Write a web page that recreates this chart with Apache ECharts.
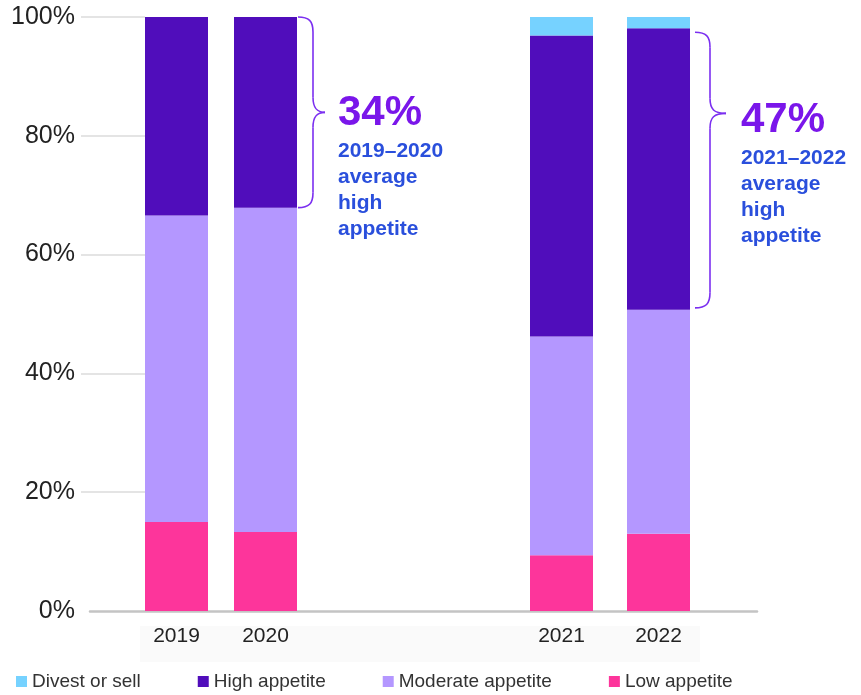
<!DOCTYPE html>
<html><head><meta charset="utf-8">
<script src="https://cdn.jsdelivr.net/npm/echarts@6/dist/echarts.min.js"></script>
<style>html,body{margin:0;padding:0;background:#fff}#c{width:861px;height:695px}</style>
</head><body><div id="c"></div>
<script>
const categories = ['2019', '2020', '2021', '2022'];
const lowAppetite = [15.0, 13.3, 9.4, 13.0];
const moderateAppetite = [51.6, 54.6, 36.8, 37.7];
const highAppetite = [33.4, 32.1, 50.7, 47.4];
const divestOrSell = [0, 0, 3.1, 1.9];
const yTicks = [20, 40, 60, 80, 100];
const legendNames = ['Divest or sell', 'High appetite', 'Moderate appetite', 'Low appetite'];
const calloutPct = ['34%', '47%'];
const calloutText = ['2019–2020\naverage\nhigh\nappetite', '2021–2022\naverage\nhigh\nappetite'];

const FF = '"Liberation Sans", Arial, sans-serif';
const colors = {
  'Divest or sell': '#76d2ff',
  'High appetite': '#500dbb',
  'Moderate appetite': '#b497ff',
  'Low appetite': '#fd359b'
};
const stackOrder = [
  ['Low appetite', lowAppetite],
  ['Moderate appetite', moderateAppetite],
  ['High appetite', highAppetite],
  ['Divest or sell', divestOrSell]
];
const groups = [[0, 1], [2, 3]];
const series = [];
groups.forEach((idx, g) => {
  stackOrder.forEach(([name, arr]) => {
    series.push({
      name, type: 'bar', xAxisIndex: g + 1, yAxisIndex: g + 2, stack: 's' + g,
      barWidth: 63, data: idx.map(i => arr[i]),
      itemStyle: { color: colors[name] }, emphasis: { disabled: true }
    });
  });
});

const catAxis = (gi, data) => ({
  type: 'category', gridIndex: gi, data,
  axisLine: { show: false }, axisTick: { show: false }, splitLine: { show: false },
  axisLabel: { fontSize: 21, color: '#222', margin: 15, fontFamily: FF }
});
const hiddenY = gi => ({ type: 'value', gridIndex: gi, min: 0, max: 100, show: false });

const option = {
  animation: false,
  backgroundColor: '#fff',
  grid: [
    { left: 90, right: 104, top: 17, bottom: 84 },
    { left: 132, width: 178, top: 17, bottom: 84 },
    { left: 513, width: 194, top: 17, bottom: 84 }
  ],
  xAxis: [
    { type: 'value', gridIndex: 0, min: 0, max: 1,
      axisLine: { show: true, onZero: false, lineStyle: { color: '#c4c4c4', width: 2.5 } },
      axisTick: { show: false }, axisLabel: { show: false }, splitLine: { show: false } },
    catAxis(1, categories.slice(0, 2)),
    catAxis(2, categories.slice(2))
  ],
  yAxis: [
    { type: 'value', gridIndex: 0, min: 0, max: 100, interval: 20, position: 'left',
      axisLine: { show: false }, splitLine: { show: false },
      axisTick: { show: true, inside: true, length: 55, customValues: yTicks,
        lineStyle: { color: '#dcdcdc', width: 1.5 } },
      axisLabel: { formatter: '{value}%', fontSize: 25, color: '#222', margin: 15, fontFamily: FF } },
    { type: 'value', gridIndex: 0, min: 0, max: 100, interval: 20, position: 'left',
      axisLine: { show: false }, splitLine: { show: false },
      axisTick: { show: true, inside: false, length: 9, customValues: yTicks,
        lineStyle: { color: '#dcdcdc', width: 1.5 } },
      axisLabel: { show: false } },
    hiddenY(1), hiddenY(2)
  ],
  legend: {
    data: legendNames, left: 16, top: 672, padding: 0, itemWidth: 11, itemHeight: 11, itemGap: 57,
    icon: 'rect', selectedMode: false,
    textStyle: { fontSize: 19, color: '#333', fontFamily: FF, lineHeight: 19 }
  },
  series
};

const chart = echarts.init(document.getElementById('c'), null, { renderer: 'canvas' });
chart.setOption(option);

function brace(x0, yT, yB, yM, arm, tip, color) {
  const x1 = x0 + arm, x2 = x1 + tip, r = 15;
  const ls = { stroke: color, lineWidth: 1.6, fill: 'none' };
  return [
    { type: 'bezierCurve', shape: { x1: x0, y1: yT, cpx1: x0 + 11, cpy1: yT, cpx2: x1, cpy2: yT + 4, x2: x1, y2: yT + r }, style: ls },
    { type: 'line', shape: { x1: x1, y1: yT + r, x2: x1, y2: yM - r }, style: ls },
    { type: 'bezierCurve', shape: { x1: x1, y1: yM - r, cpx1: x1, cpy1: yM - 4, cpx2: x1 + 4, cpy2: yM, x2: x2, y2: yM }, style: ls },
    { type: 'bezierCurve', shape: { x1: x2, y1: yM, cpx1: x1 + 4, cpy1: yM, cpx2: x1, cpy2: yM + 4, x2: x1, y2: yM + r }, style: ls },
    { type: 'line', shape: { x1: x1, y1: yM + r, x2: x1, y2: yB - r }, style: ls },
    { type: 'bezierCurve', shape: { x1: x1, y1: yB - r, cpx1: x1, cpy1: yB - 4, cpx2: x0 + 11, cpy2: yB, x2: x0, y2: yB }, style: ls }
  ];
}

const px = (gi, cat, v) => chart.convertToPixel({ gridIndex: gi }, [cat, v]);
const braceColor = '#7b2ff0';
const lTop = px(1, categories[1], lowAppetite[1] + moderateAppetite[1] + highAppetite[1] + divestOrSell[1]);
const lBot = px(1, categories[1], lowAppetite[1] + moderateAppetite[1]);
const lx0 = lTop[0] + 31.5 + 1;
const lMid = (lTop[1] + lBot[1]) / 2;
const rTop = px(2, categories[3], lowAppetite[3] + moderateAppetite[3] + highAppetite[3]);
const rBot = px(2, categories[3], lowAppetite[3] + moderateAppetite[3]);
const rx0 = rTop[0] + 31.5 + 5;
const rMid = lMid + 1;

const graphic = [
  { type: 'rect', z: -1, shape: { x: 140, y: 626, width: 560, height: 36 }, style: { fill: '#fafafa' } },
  ...brace(lx0, lTop[1], lBot[1], lMid, 15, 12, braceColor),
  ...brace(rx0, rTop[1] + 4, rBot[1] - 2, rMid, 15, 16, braceColor),
  { type: 'text', style: { text: calloutPct[0], x: lx0 + 40, y: lMid + 1, font: 'bold 42px ' + FF, fill: '#7a16ea', verticalAlign: 'middle' } },
  { type: 'text', style: { text: calloutText[0], x: lx0 + 40, y: 138.5, font: 'bold 21px ' + FF, fill: '#2a4fdc', lineHeight: 26, verticalAlign: 'top' } },
  { type: 'text', style: { text: calloutPct[1], x: rx0 + 46, y: 120, font: 'bold 42px ' + FF, fill: '#7a16ea', verticalAlign: 'middle' } },
  { type: 'text', style: { text: calloutText[1], x: rx0 + 46, y: 145.5, font: 'bold 21px ' + FF, fill: '#2a4fdc', lineHeight: 26, verticalAlign: 'top' } }
];
chart.setOption({ graphic });
</script>
</body></html>
